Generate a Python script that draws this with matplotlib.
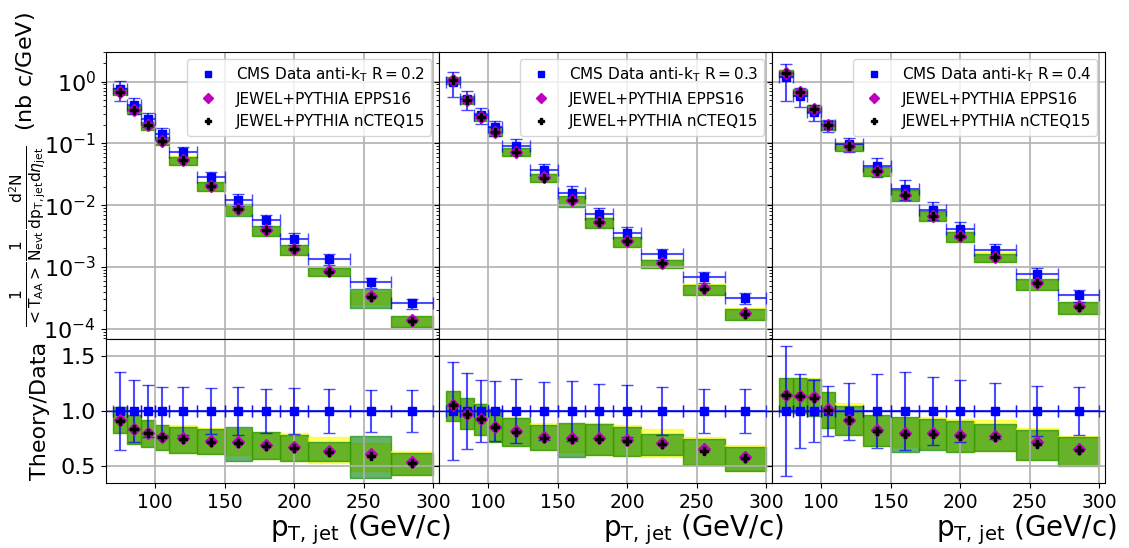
import numpy as np
import matplotlib
matplotlib.use('Agg')
import matplotlib.pyplot as plt

# pT bins (GeV/c)
bin_lo = [70, 80, 90, 100, 110, 130, 150, 170, 190, 210, 240, 270]
bin_hi = [80, 90, 100, 110, 130, 150, 170, 190, 210, 240, 270, 300]
bin_center = [75, 85, 95, 105, 120, 140, 160, 180, 200, 225, 255, 285]

radii = ['0.2', '0.3', '0.4']

# CMS data spectra and relative errors
cms_R02 = [0.75, 0.42, 0.246, 0.144, 0.0713, 0.0281, 0.01225, 0.00575, 0.00288, 0.00133, 5.6e-4, 2.57e-4]
cms_R03 = [1.0, 0.525, 0.293, 0.181, 0.090, 0.0369, 0.0159, 0.00718, 0.00355, 0.00163, 6.9e-4, 3.1e-4]
cms_R04 = [1.2, 0.594, 0.324, 0.195, 0.098, 0.0436, 0.0185, 0.0085, 0.0041, 0.00187, 7.7e-4, 3.5e-4]
relerr_R02 = [0.357, 0.28, 0.24, 0.22, 0.22, 0.21, 0.215, 0.2, 0.21, 0.2, 0.19, 0.19]
relerr_R03 = [0.445, 0.343, 0.285, 0.276, 0.288, 0.267, 0.276, 0.248, 0.238, 0.218, 0.2, 0.2]
relerr_R04 = [0.59, 0.337, 0.283, 0.226, 0.26, 0.338, 0.355, 0.312, 0.287, 0.256, 0.232, 0.217]

# theory / data
epps_R02 = [0.915, 0.84, 0.80, 0.764, 0.75, 0.725, 0.713, 0.686, 0.672, 0.636, 0.607, 0.537]
ncteq_R02 = [0.912, 0.836, 0.797, 0.76, 0.745, 0.721, 0.709, 0.682, 0.667, 0.63, 0.59, 0.524]
epps_R03 = [1.055, 0.976, 0.928, 0.856, 0.818, 0.763, 0.752, 0.752, 0.733, 0.706, 0.65, 0.583]
ncteq_R03 = [1.052, 0.973, 0.924, 0.852, 0.812, 0.758, 0.748, 0.748, 0.727, 0.70, 0.635, 0.567]
epps_R04 = [1.148, 1.14, 1.125, 1.017, 0.922, 0.826, 0.795, 0.795, 0.782, 0.772, 0.72, 0.655]
ncteq_R04 = [1.145, 1.136, 1.121, 1.012, 0.918, 0.821, 0.79, 0.79, 0.776, 0.764, 0.702, 0.644]

# uncertainty bands (theory / data), EPPS16 = yellow, nCTEQ15 = green
epps_lo_R02 = [0.795, 0.703, 0.68, 0.645, 0.618, 0.612, 0.596, 0.56, 0.544, 0.527, 0.45, 0.419]
epps_hi_R02 = [1.034, 0.966, 0.917, 0.872, 0.872, 0.844, 0.838, 0.813, 0.795, 0.761, 0.706, 0.633]
ncteq_lo_R02 = [0.795, 0.703, 0.673, 0.642, 0.618, 0.612, 0.541, 0.56, 0.544, 0.54, 0.39, 0.419]
ncteq_hi_R02 = [1.034, 0.966, 0.917, 0.872, 0.856, 0.832, 0.856, 0.804, 0.78, 0.713, 0.773, 0.62]

epps_lo_R03 = [0.909, 0.833, 0.785, 0.72, 0.685, 0.645, 0.63, 0.6, 0.592, 0.58, 0.506, 0.451]
epps_hi_R03 = [1.187, 1.116, 1.07, 1.018, 0.948, 0.887, 0.878, 0.887, 0.874, 0.834, 0.764, 0.687]
ncteq_lo_R03 = [0.909, 0.833, 0.785, 0.72, 0.685, 0.645, 0.58, 0.6, 0.592, 0.598, 0.506, 0.451]
ncteq_hi_R03 = [1.187, 1.116, 1.064, 1.015, 0.933, 0.875, 0.893, 0.878, 0.853, 0.794, 0.745, 0.675]

epps_lo_R04 = [0.99, 0.985, 0.95, 0.847, 0.78, 0.679, 0.67, 0.66, 0.623, 0.635, 0.555, 0.5]
epps_hi_R04 = [1.3, 1.3, 1.3, 1.177, 1.07, 0.96, 0.935, 0.942, 0.93, 0.917, 0.843, 0.776]
ncteq_lo_R04 = [0.99, 0.985, 0.95, 0.847, 0.78, 0.679, 0.627, 0.642, 0.623, 0.635, 0.555, 0.5]
ncteq_hi_R04 = [1.3, 1.3, 1.295, 1.177, 1.049, 0.96, 0.942, 0.93, 0.91, 0.88, 0.825, 0.767]

cms = [cms_R02, cms_R03, cms_R04]
relerr = [relerr_R02, relerr_R03, relerr_R04]
epps = [epps_R02, epps_R03, epps_R04]
ncteq = [ncteq_R02, ncteq_R03, ncteq_R04]
epps_band = [(epps_lo_R02, epps_hi_R02), (epps_lo_R03, epps_hi_R03), (epps_lo_R04, epps_hi_R04)]
ncteq_band = [(ncteq_lo_R02, ncteq_hi_R02), (ncteq_lo_R03, ncteq_hi_R03), (ncteq_lo_R04, ncteq_hi_R04)]

fig, axis = plt.subplots(2, 3, figsize=(11.29, 5.48), dpi=100, sharex=True, sharey='row',
                         gridspec_kw={'height_ratios': [2, 1], 'hspace': 0, 'wspace': 0})
fig.subplots_adjust(left=0.0936, right=0.9788, top=0.9057, bottom=0.118)

x = np.array(bin_center, dtype=float)
xerr = (np.array(bin_hi) - np.array(bin_lo)) / 2.0

for i in range(3):
    top = axis[0, i]
    bot = axis[1, i]
    data = np.array(cms[i])
    err = np.array(relerr[i])

    for j in range(len(bin_lo)):
        xs = [bin_lo[j], bin_hi[j]]
        for band, col in [(epps_band[i], 'yellow'), (ncteq_band[i], 'green')]:
            lo, hi = band[0][j], band[1][j]
            top.fill_between(xs, lo * data[j], hi * data[j], color=col, alpha=0.6, lw=1)
            bot.fill_between(xs, lo, hi, color=col, alpha=0.6, lw=1)

    # spectra
    top.errorbar(x, data, xerr=xerr, yerr=err * data, fmt='none', ecolor='blue',
                 alpha=0.7, capsize=4, elinewidth=1.5, zorder=3)
    h1, = top.plot(x, data, 'bs', ms=6, zorder=4)
    h2, = top.plot(x, np.array(epps[i]) * data, 'mD', ms=6, zorder=5)
    h3, = top.plot(x, np.array(ncteq[i]) * data, 'kP', ms=6, zorder=6)
    top.legend([h1, h2, h3],
               [r'CMS Data anti-$\mathrm{k_T}$ $\mathrm{R=' + radii[i] + '}$',
                'JEWEL+PYTHIA EPPS16', 'JEWEL+PYTHIA nCTEQ15'],
               loc='upper right', fontsize=11, markerscale=0.8)

    # ratios
    bot.axhline(1.0, color='blue', lw=1, zorder=3)
    bot.errorbar(x, np.ones(len(x)), xerr=xerr, yerr=err, fmt='none', ecolor='blue',
                 alpha=0.7, capsize=4, elinewidth=1.5, zorder=3)
    bot.plot(x, np.ones(len(x)), 'bs', ms=6, zorder=4)
    bot.plot(x, epps[i], 'mD', ms=6, zorder=5)
    bot.plot(x, ncteq[i], 'kP', ms=6, zorder=6)

    for a in (top, bot):
        a.grid(True, which='major', color='#b0b0b0', lw=1.2)
        a.tick_params(axis='x', labelsize=13.5)
        a.tick_params(axis='y', labelsize=16)
    bot.set_xlabel(r'$\mathrm{p_{T,\,jet}}$ (GeV/c)', fontsize=20, loc='right')
    bot.xaxis.set_label_coords(1.036, -0.2)

axis[0, 0].set_yscale('log')
axis[0, 0].set_ylim(6.7e-5, 3.05)
axis[1, 0].set_ylim(0.34, 1.653)
axis[1, 0].set_yticks([0.5, 1.0, 1.5])
axis[1, 0].set_xlim(64.6, 304)
axis[1, 0].set_xticks([100, 150, 200, 250, 300])

axis[0, 0].set_ylabel(r'$\frac{1}{\mathrm{<T_{AA}>}}\frac{1}{\mathrm{N_{evt}}}'
                      r'\frac{\mathrm{d^2N}}{\mathrm{dp_{T,jet}d}\eta_{\mathrm{jet}}}$  (nb c/GeV)',
                      fontsize=16)
axis[0, 0].yaxis.set_label_coords(-0.172, 0.59)
axis[1, 0].set_ylabel('Theory/Data', fontsize=16)
axis[1, 0].yaxis.set_label_coords(-0.167, 0.5)

fig.savefig('out.png', dpi=100)
